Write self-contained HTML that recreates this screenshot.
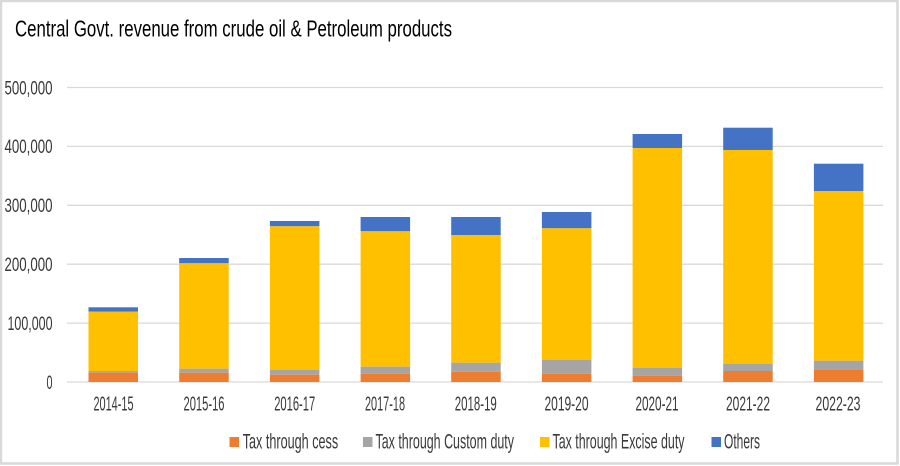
<!DOCTYPE html>
<html>
<head>
<meta charset="utf-8">
<style>
  html,body{margin:0;padding:0;background:#fff;}
  svg{display:block;}
  text{font-family:"Liberation Sans", sans-serif;}
</style>
</head>
<body>
<svg width="900" height="466" viewBox="0 0 900 466" xmlns="http://www.w3.org/2000/svg">
  <rect x="0" y="0" width="900" height="466" fill="#fff"/>
  <!-- outer border -->
  <rect x="1" y="1" width="896.5" height="462.5" fill="none" stroke="#d9d9d9" stroke-width="2.5"/>

  <!-- title -->
  <text x="15" y="36.5" font-size="23.5" fill="#000" textLength="437" lengthAdjust="spacingAndGlyphs">Central  Govt.  revenue  from  crude  oil  &amp; Petroleum  products</text>

  <!-- gridlines -->
  <g stroke="#d9d9d9" stroke-width="1.3">
    <line x1="67" y1="87.5" x2="883" y2="87.5"/>
    <line x1="67" y1="146.4" x2="883" y2="146.4"/>
    <line x1="67" y1="205.3" x2="883" y2="205.3"/>
    <line x1="67" y1="264.2" x2="883" y2="264.2"/>
    <line x1="67" y1="323.1" x2="883" y2="323.1"/>
    <line x1="67" y1="382" x2="883" y2="382"/>
  </g>

  <!-- y labels -->
  <g font-size="19.5" fill="#3a3a3a" text-anchor="end">
    <text x="52.5" y="94.3" textLength="48" lengthAdjust="spacingAndGlyphs">500,000</text>
    <text x="52.5" y="153.2" textLength="48" lengthAdjust="spacingAndGlyphs">400,000</text>
    <text x="52.5" y="212.1" textLength="48" lengthAdjust="spacingAndGlyphs">300,000</text>
    <text x="52.5" y="271" textLength="48" lengthAdjust="spacingAndGlyphs">200,000</text>
    <text x="52.5" y="329.9" textLength="45" lengthAdjust="spacingAndGlyphs">100,000</text>
    <text x="52.5" y="388.8" textLength="6" lengthAdjust="spacingAndGlyphs">0</text>
  </g>

  <!-- bars -->
  <g>
    <!-- 1 -->
    <rect x="88.5" y="307.3" width="49.5" height="4.4" fill="#4472C4"/>
    <rect x="88.5" y="311.7" width="49.5" height="59.3" fill="#FFC000"/>
    <rect x="88.5" y="371" width="49.5" height="1.7" fill="#A5A5A5"/>
    <rect x="88.5" y="372.7" width="49.5" height="9.3" fill="#ED7D31"/>
    <!-- 2 -->
    <rect x="179.2" y="258" width="49.5" height="5.3" fill="#4472C4"/>
    <rect x="179.2" y="263.3" width="49.5" height="105.4" fill="#FFC000"/>
    <rect x="179.2" y="368.7" width="49.5" height="4" fill="#A5A5A5"/>
    <rect x="179.2" y="372.7" width="49.5" height="9.3" fill="#ED7D31"/>
    <!-- 3 -->
    <rect x="269.9" y="221" width="49.5" height="5.3" fill="#4472C4"/>
    <rect x="269.9" y="226.3" width="49.5" height="143.4" fill="#FFC000"/>
    <rect x="269.9" y="369.7" width="49.5" height="5" fill="#A5A5A5"/>
    <rect x="269.9" y="374.7" width="49.5" height="7.3" fill="#ED7D31"/>
    <!-- 4 -->
    <rect x="360.6" y="217" width="49.5" height="14.3" fill="#4472C4"/>
    <rect x="360.6" y="231.3" width="49.5" height="135.4" fill="#FFC000"/>
    <rect x="360.6" y="366.7" width="49.5" height="7" fill="#A5A5A5"/>
    <rect x="360.6" y="373.7" width="49.5" height="8.3" fill="#ED7D31"/>
    <!-- 5 -->
    <rect x="451.2" y="217" width="49.5" height="18" fill="#4472C4"/>
    <rect x="451.2" y="235" width="49.5" height="127.7" fill="#FFC000"/>
    <rect x="451.2" y="362.7" width="49.5" height="9" fill="#A5A5A5"/>
    <rect x="451.2" y="371.7" width="49.5" height="10.3" fill="#ED7D31"/>
    <!-- 6 -->
    <rect x="541.9" y="212" width="49.5" height="16.3" fill="#4472C4"/>
    <rect x="541.9" y="228.3" width="49.5" height="131.4" fill="#FFC000"/>
    <rect x="541.9" y="359.7" width="49.5" height="14" fill="#A5A5A5"/>
    <rect x="541.9" y="373.7" width="49.5" height="8.3" fill="#ED7D31"/>
    <!-- 7 -->
    <rect x="632.6" y="134" width="49.5" height="14" fill="#4472C4"/>
    <rect x="632.6" y="148" width="49.5" height="219.7" fill="#FFC000"/>
    <rect x="632.6" y="367.7" width="49.5" height="8" fill="#A5A5A5"/>
    <rect x="632.6" y="375.7" width="49.5" height="6.3" fill="#ED7D31"/>
    <!-- 8 -->
    <rect x="723.2" y="127.7" width="49.5" height="22.3" fill="#4472C4"/>
    <rect x="723.2" y="150" width="49.5" height="213.7" fill="#FFC000"/>
    <rect x="723.2" y="363.7" width="49.5" height="7.3" fill="#A5A5A5"/>
    <rect x="723.2" y="371" width="49.5" height="11" fill="#ED7D31"/>
    <!-- 9 -->
    <rect x="813.9" y="163.7" width="49.5" height="27.3" fill="#4472C4"/>
    <rect x="813.9" y="191" width="49.5" height="169.7" fill="#FFC000"/>
    <rect x="813.9" y="360.7" width="49.5" height="8.6" fill="#A5A5A5"/>
    <rect x="813.9" y="369.3" width="49.5" height="12.7" fill="#ED7D31"/>
  </g>

  <!-- x labels -->
  <g font-size="20.5" fill="#3a3a3a" text-anchor="middle">
    <text x="113.5" y="410.5" textLength="40" lengthAdjust="spacingAndGlyphs">2014-15</text>
    <text x="204" y="410.5" textLength="41" lengthAdjust="spacingAndGlyphs">2015-16</text>
    <text x="294.7" y="410.5" textLength="41" lengthAdjust="spacingAndGlyphs">2016-17</text>
    <text x="385" y="410.5" textLength="40" lengthAdjust="spacingAndGlyphs">2017-18</text>
    <text x="475.8" y="410.5" textLength="42" lengthAdjust="spacingAndGlyphs">2018-19</text>
    <text x="566.5" y="410.5" textLength="44" lengthAdjust="spacingAndGlyphs">2019-20</text>
    <text x="657" y="410.5" textLength="43" lengthAdjust="spacingAndGlyphs">2020-21</text>
    <text x="748" y="410.5" textLength="44" lengthAdjust="spacingAndGlyphs">2021-22</text>
    <text x="838" y="410.5" textLength="45" lengthAdjust="spacingAndGlyphs">2022-23</text>
  </g>

  <!-- legend -->
  <g font-size="21" fill="#3a3a3a">
    <rect x="229.5" y="437" width="9.5" height="10" fill="#ED7D31"/>
    <text x="242.7" y="448.3" textLength="95.5" lengthAdjust="spacingAndGlyphs">Tax through cess</text>
    <rect x="363" y="437" width="9.5" height="10" fill="#A5A5A5"/>
    <text x="375.5" y="448.3" textLength="138.5" lengthAdjust="spacingAndGlyphs">Tax through Custom duty</text>
    <rect x="540" y="437" width="9.5" height="10" fill="#FFC000"/>
    <text x="552.5" y="448.3" textLength="132" lengthAdjust="spacingAndGlyphs">Tax through Excise duty</text>
    <rect x="711.5" y="437" width="9.5" height="10" fill="#4472C4"/>
    <text x="724" y="448.3" textLength="36" lengthAdjust="spacingAndGlyphs">Others</text>
  </g>
</svg>
</body>
</html>
